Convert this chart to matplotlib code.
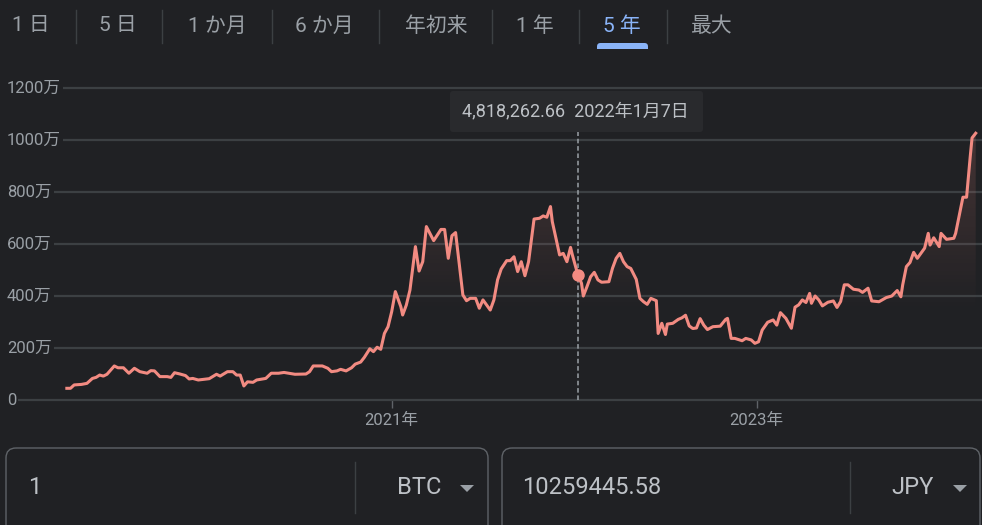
import numpy as np
import matplotlib.pyplot as plt
from matplotlib.patches import FancyBboxPatch, Polygon, Rectangle
from matplotlib.transforms import blended_transform_factory

# 色 (Google ダークテーマ風)
BG = '#202124'
LINE = '#f28b82'
GRID = '#3c4043'
TEXT = '#9aa0a6'
VALUE = '#bdc1c6'
BLUE = '#8ab4f8'
BORDER = '#5f6368'

plt.rcParams['font.family'] = ['Roboto', 'Noto Sans CJK JP', 'DejaVu Sans']

# ---------------- データ (年は小数, 価格は万円) ----------------
years = [
    2019.22, 2019.24, 2019.26, 2019.30, 2019.33, 2019.36, 2019.38, 2019.40, 2019.42, 2019.44,
    2019.48, 2019.50, 2019.53, 2019.56, 2019.59, 2019.62, 2019.66, 2019.68, 2019.70, 2019.73,
    2019.77, 2019.79, 2019.81, 2019.84, 2019.87, 2019.89, 2019.91, 2019.94, 2020.00, 2020.04,
    2020.06, 2020.10, 2020.13, 2020.15, 2020.17, 2020.19, 2020.21, 2020.24, 2020.26, 2020.31,
    2020.34, 2020.38, 2020.41, 2020.47, 2020.53, 2020.55, 2020.57, 2020.62, 2020.65, 2020.67,
    2020.70, 2020.72, 2020.75, 2020.78, 2020.80, 2020.83, 2020.85, 2020.88, 2020.90, 2020.92,
    2020.94, 2020.96, 2020.98, 2021.00, 2021.02, 2021.05,
    2021.06, 2021.08, 2021.10, 2021.13, 2021.15, 2021.17, 2021.19, 2021.23, 2021.27, 2021.29,
    2021.31, 2021.33, 2021.35, 2021.39, 2021.41, 2021.43, 2021.46, 2021.48, 2021.50, 2021.54,
    2021.56, 2021.58, 2021.60, 2021.63, 2021.65, 2021.67, 2021.69, 2021.71, 2021.73, 2021.75,
    2021.78, 2021.81, 2021.83, 2021.85, 2021.87, 2021.88, 2021.92, 2021.94, 2021.96, 2021.98,
    2021.99, 2022.02, 2022.04, 2022.05, 2022.07, 2022.09, 2022.11, 2022.13, 2022.15, 2022.19,
    2022.21, 2022.23, 2022.25, 2022.27, 2022.29, 2022.31, 2022.34, 2022.36, 2022.38, 2022.40,
    2022.42, 2022.45, 2022.46, 2022.48, 2022.50, 2022.51, 2022.54, 2022.57, 2022.59, 2022.61,
    2022.63, 2022.65, 2022.67, 2022.69, 2022.71, 2022.73, 2022.76, 2022.80, 2022.83, 2022.84,
    2022.86, 2022.88, 2022.92, 2022.94, 2022.97, 2022.99, 2023.01, 2023.03, 2023.06, 2023.09,
    2023.11, 2023.13, 2023.16, 2023.19, 2023.21, 2023.23, 2023.25, 2023.27, 2023.29, 2023.30,
    2023.32, 2023.34, 2023.36, 2023.39, 2023.42, 2023.44, 2023.46, 2023.48, 2023.50, 2023.53,
    2023.56, 2023.58, 2023.61, 2023.63, 2023.67, 2023.71, 2023.74, 2023.77, 2023.79, 2023.80,
    2023.82, 2023.84, 2023.86, 2023.88, 2023.92, 2023.94, 2023.95, 2023.97, 2024.00, 2024.01,
    2024.04, 2024.08, 2024.09, 2024.13, 2024.15, 2024.17, 2024.18, 2024.20,
]
prices = [
    45, 45, 58, 60, 64, 83, 87, 96, 92, 99,
    131, 124, 124, 103, 122, 109, 103, 113, 112, 90,
    90, 87, 105, 100, 94, 81, 83, 77, 82, 99,
    92, 109, 109, 96, 96, 54, 70, 68, 77, 83,
    103, 103, 106, 99, 100, 109, 131, 131, 122, 109,
    112, 118, 112, 124, 138, 146, 164, 197, 186, 203,
    195, 256, 282, 340, 417, 359,
    327, 365, 423, 590, 496, 532, 667, 613, 656, 656,
    545, 632, 644, 404, 382, 391, 391, 353, 385, 346,
    385, 462, 504, 536, 536, 551, 494, 532, 478, 532,
    696, 699, 708, 703, 744, 686, 558, 564, 532, 587,
    558, 482, 449, 400, 436, 474, 491, 462, 453, 455,
    507, 545, 564, 532, 513, 506, 464, 391, 378, 368,
    391, 382, 256, 295, 252, 292, 295, 310, 316, 326,
    285, 275, 277, 313, 288, 271, 282, 284, 310, 314,
    237, 237, 228, 237, 231, 218, 224, 269, 299, 308,
    288, 336, 314, 276, 357, 366, 385, 375, 410, 372,
    400, 385, 362, 376, 381, 356, 379, 443, 443, 426,
    423, 414, 430, 381, 378, 394, 400, 421, 397, 443,
    513, 529, 568, 545, 584, 641, 596, 624, 590, 641,
    618, 622, 641, 780, 780, 936, 1008, 1026,
]

tabs = ['1 日', '5 日', '1 か月', '6 か月', '年初来', '1 年', '5 年', '最大']
active_tab = '5 年'
y_ticks = [0, 200, 400, 600, 800, 1000, 1200]
y_tick_labels = ['0', '200万', '400万', '600万', '800万', '1000万', '1200万']
x_ticks = [2021, 2023]
x_tick_labels = ['2021年', '2023年']
hover_year = 2022.02
hover_price = 481.826266
hover_label = '4,818,262.66  2022年1月7日'
amount = '1'
from_cur = 'BTC'
converted = '10259445.58'
to_cur = 'JPY'

W, H = 982, 525
fig = plt.figure(figsize=(W / 100, H / 100), dpi=100, facecolor=BG)

# ---------------- チャート ----------------
ax = fig.add_axes([15 / W, (H - 440) / H, 967 / W, 400 / H])
ax.set_facecolor('none')
ax.set_xlim(2018.9359, 2024.2345)
ax.set_ylim(-153.8, 1384.6)
for s in ax.spines.values():
    s.set_visible(False)
# x軸の目盛りは 0 の線に付ける
ax.spines['bottom'].set_visible(True)
ax.spines['bottom'].set_color('none')
ax.spines['bottom'].set_position(('data', 0))
ax.set_yticks(y_ticks)
ax.yaxis.grid(True, color=GRID, lw=1.6)
ax.tick_params(axis='y', length=0, labelleft=False)
ax.set_xticks(x_ticks, x_tick_labels)
ax.tick_params(axis='x', direction='out', length=6, width=1, color=BORDER,
               labelcolor=TEXT, labelsize=12, pad=3)

bt = blended_transform_factory(ax.transAxes, ax.transData)
for v, lab in zip(y_ticks, y_tick_labels):
    ax.text(-0.0083, v, lab, transform=bt, ha='left', va='center', color=TEXT,
            fontsize=12, clip_on=False, zorder=4,
            bbox=dict(boxstyle='square,pad=0.12', fc=BG, ec='none'))

# グラデーション塗り
top = max(prices)
grad = np.zeros((256, 1, 4))
grad[:, 0, :3] = np.array([242, 139, 130]) / 255
lv = np.linspace(0, top, 256)
grad[:, 0, 3] = np.clip((lv - 330) / (top - 330), 0, 1) * 0.18
im = ax.imshow(grad, extent=[years[0], years[-1], 0, top], origin='lower',
               aspect='auto', zorder=2, interpolation='bilinear')
fill = ax.fill_between(years, prices, 0, color='none', lw=0)
im.set_clip_path(fill.get_paths()[0], transform=ax.transData)

ax.plot(years, prices, color=LINE, lw=2.2, solid_joinstyle='round', zorder=3)

# ホバー
ax.plot([hover_year, hover_year], [0, 1030], color=TEXT, lw=1.1,
        ls=(0, (3, 1.8)), zorder=2.5)
ax.plot(hover_year, hover_price, 'o', ms=9, color=LINE, mec='none', zorder=5)

# ---------------- オーバーレイ (ピクセル座標) ----------------
ov = fig.add_axes([0, 0, 1, 1], zorder=10)
ov.set_xlim(0, W)
ov.set_ylim(H, 0)
ov.axis('off')
ov.patch.set_alpha(0)

# ツールチップ
ov.add_patch(FancyBboxPatch((450, 91), 253, 41, boxstyle='round,pad=0,rounding_size=3',
                            fc='#292a2d', ec='none'))
ov.text(462, 111.5, hover_label, ha='left', va='center', color=VALUE, fontsize=13)

# タブ
tab_x = [31, 118, 217, 324, 436, 535, 622, 712]
sep_x = [75.7, 162.3, 271.7, 379.3, 491.7, 579.3, 666.7]
for t, x in zip(tabs, tab_x):
    ov.text(x, 26, t, ha='center', va='center', fontsize=15,
            color=BLUE if t == active_tab else TEXT)
for x in sep_x:
    ov.plot([x, x], [10, 43], color=GRID, lw=1)
ov.add_patch(FancyBboxPatch((597, 43), 51, 10, boxstyle='round,pad=0,rounding_size=3.5',
                            fc=BLUE, ec='none'))
ov.add_patch(Rectangle((590, 49), 65, 8, fc=BG, ec='none'))

# 換算ボックス
ov.add_patch(FancyBboxPatch((6, 448), 482, 100, boxstyle='round,pad=0,rounding_size=10',
                            fc='none', ec=BORDER, lw=1))
ov.add_patch(FancyBboxPatch((502, 448), 478, 100, boxstyle='round,pad=0,rounding_size=10',
                            fc='none', ec=BORDER, lw=1))
ov.plot([355, 355], [462, 513], color=GRID, lw=1)
ov.plot([850, 850], [462, 513], color=GRID, lw=1)
ov.text(28, 488, amount, ha='left', va='center', fontsize=17, color=VALUE)
ov.text(441, 488, from_cur, ha='right', va='center', fontsize=17, color=VALUE)
ov.text(522, 488, converted, ha='left', va='center', fontsize=17, color=VALUE)
ov.text(934, 488, to_cur, ha='right', va='center', fontsize=17, color=VALUE)
for cx in (467, 960):
    ov.add_patch(Polygon([[cx - 7, 485], [cx + 7, 485], [cx, 492]], closed=True,
                         fc=TEXT, ec='none'))

fig.savefig('out.png', dpi=100, facecolor=BG)
